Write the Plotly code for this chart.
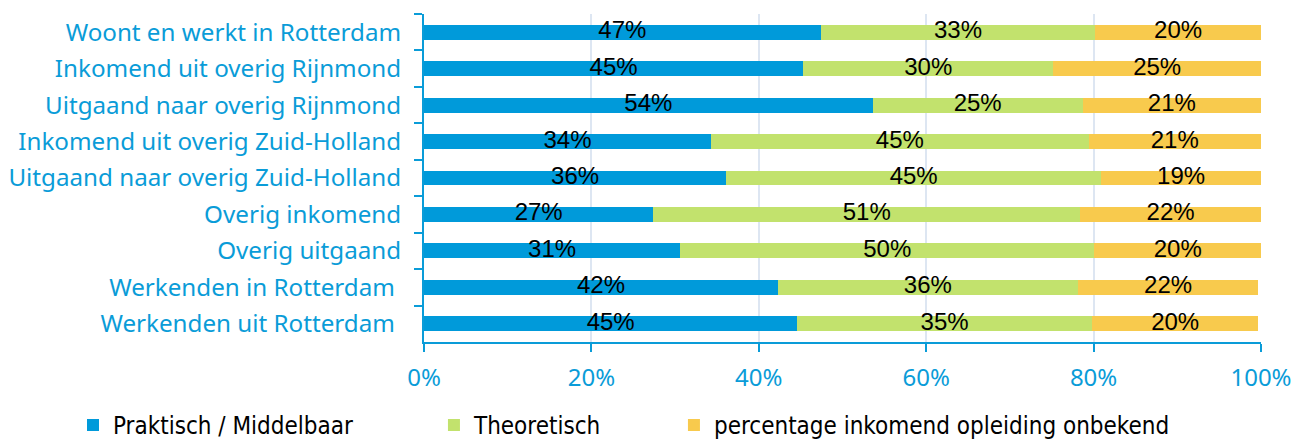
import plotly.graph_objects as go

categories = [
    "Woont en werkt in Rotterdam",
    "Inkomend uit overig Rijnmond",
    "Uitgaand naar overig Rijnmond",
    "Inkomend uit overig Zuid-Holland",
    "Uitgaand naar overig Zuid-Holland",
    "Overig inkomend",
    "Overig uitgaand",
    "Werkenden in Rotterdam\u00a0",
    "Werkenden uit Rotterdam\u00a0",
]
praktisch = [47.4, 45.3, 53.6, 34.3, 36.1, 27.4, 30.6, 42.3, 44.6]
theoretisch = [32.8, 29.9, 25.1, 45.1, 44.8, 51.0, 49.5, 35.8, 35.2]
onbekend = [19.8, 24.8, 21.3, 20.6, 19.1, 21.6, 19.9, 21.6, 19.9]

series_names = ["Praktisch / Middelbaar", "Theoretisch", "percentage inkomend opleiding onbekend"]
colors = ["#009ADA", "#C2E26D", "#F8CA4D"]
x_ticks = [0, 20, 40, 60, 80, 100]

BLUE_TXT = "#0A9CD8"
series = [praktisch, theoretisch, onbekend]
legend_ids = ["legend", "legend2", "legend3"]

fig = go.Figure()
for name, vals, col, lg in zip(series_names, series, colors, legend_ids):
    fig.add_trace(go.Bar(
        y=categories, x=vals, name=name, orientation="h",
        marker=dict(color=col, line=dict(width=0)),
        legend=lg, hoverinfo="x+name",
    ))

# value labels centred in each segment
cum = [0.0] * len(categories)
for vals in series:
    mids = [c + v / 2 for c, v in zip(cum, vals)]
    fig.add_trace(go.Scatter(
        x=mids, y=categories, mode="text",
        text=[f"{round(v)}%" for v in vals],
        textposition="middle center",
        textfont=dict(family="Liberation Sans, Arial", size=24, color="#000000"),
        showlegend=False, hoverinfo="skip",
    ))
    cum = [c + v for c, v in zip(cum, vals)]

leg_font = dict(family="DejaVu Sans Condensed", size=24, color="#000000")
leg_x = [0.0498, 0.3264, 0.5103]
for lg, lx in zip(legend_ids, leg_x):
    fig.update_layout({lg: dict(
        x=lx, y=0.062, xref="container", yref="container",
        xanchor="left", yanchor="middle", orientation="h",
        font=leg_font, bgcolor="rgba(0,0,0,0)", itemwidth=30,
        tracegroupgap=0,
    )})

fig.update_layout(
    barmode="stack",
    bargap=0.59,
    width=1305, height=445,
    margin=dict(l=416, r=52, t=6, b=111, autoexpand=False),
    plot_bgcolor="#FFFFFF", paper_bgcolor="#FFFFFF",
    font=dict(family="Noto Sans, Open Sans, sans-serif", size=24.2, color=BLUE_TXT),
    xaxis=dict(
        range=[0, 100], tickvals=x_ticks, ticktext=[f"{t}%" for t in x_ticks],
        showgrid=True, gridcolor="#DDE6F2", gridwidth=1.5,
        showline=True, linecolor=BLUE_TXT, linewidth=2,
        ticks="outside", ticklen=8, tickcolor=BLUE_TXT, tickwidth=2,
        ticklabelstandoff=5,
        tickfont=dict(size=24, color=BLUE_TXT), zeroline=False,
        fixedrange=True,
    ),
    yaxis=dict(
        autorange="reversed",
        showline=True, linecolor=BLUE_TXT, linewidth=2,
        ticks="outside", tickson="boundaries", ticklen=8, tickcolor=BLUE_TXT, tickwidth=2,
        ticklabelstandoff=16,
        tickfont=dict(size=24.2, color=BLUE_TXT), showgrid=False,
        fixedrange=True,
    ),
)

fig.write_html("out.html")
